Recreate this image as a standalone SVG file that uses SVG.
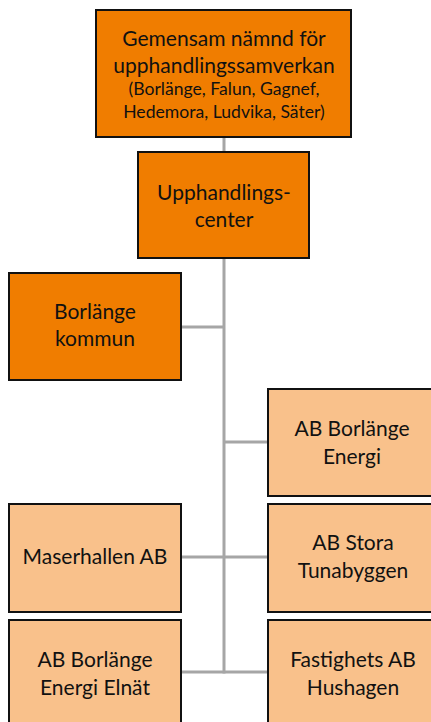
<svg xmlns="http://www.w3.org/2000/svg" width="431" height="722" viewBox="0 0 431 722">
<style>
.dk{fill:#f07d00;stroke:#111;stroke-width:2}
.lt{fill:#f9c18b;stroke:#111;stroke-width:2}
.t{font-family:Lato,"Open Sans","Liberation Sans",sans-serif;font-size:21px;fill:#111;text-anchor:middle}
.s{font-size:17.6px}
.c{stroke:#a6a6a6;stroke-width:3;fill:none}
</style>
<rect width="431" height="722" fill="#fff"/>
<g id="connectors">
<line class="c" x1="224" y1="137" x2="224" y2="673.5"/>
<line class="c" x1="181" y1="327" x2="224" y2="327"/>
<line class="c" x1="224" y1="442" x2="268" y2="442"/>
<line class="c" x1="181" y1="557" x2="268" y2="557"/>
<line class="c" x1="181" y1="672" x2="268" y2="672"/>
</g>
<g id="n1"><rect class="dk" x="96" y="10" width="255" height="127"/>
<text class="t" x="224" y="46">Gemensam nämnd för</text>
<text class="t" x="224" y="73">upphandlingssamverkan</text>
<text class="t s" x="224" y="95">(Borlänge, Falun, Gagnef,</text>
<text class="t s" x="224" y="118">Hedemora, Ludvika, Säter)</text></g>
<g id="n2"><rect class="dk" x="138" y="152" width="171" height="106"/>
<text class="t" x="224" y="200">Upphandlings-</text>
<text class="t" x="224" y="227">center</text></g>
<g id="n3"><rect class="dk" x="9" y="273" width="172" height="107"/>
<text class="t" x="95" y="319">Borlänge</text>
<text class="t" x="95" y="346">kommun</text></g>
<g id="n4"><rect class="lt" x="268" y="389" width="168" height="107"/>
<text class="t" x="352" y="436">AB Borlänge</text>
<text class="t" x="352" y="464">Energi</text></g>
<g id="n5"><rect class="lt" x="9" y="504" width="172" height="108"/>
<text class="t" x="95" y="564">Maserhallen AB</text></g>
<g id="n6"><rect class="lt" x="268" y="504" width="168" height="108"/>
<text class="t" x="353" y="550">AB Stora</text>
<text class="t" x="353" y="578">Tunabyggen</text></g>
<g id="n7"><rect class="lt" x="9" y="620" width="172" height="108"/>
<text class="t" x="95" y="667">AB Borlänge</text>
<text class="t" x="95" y="695">Energi Elnät</text></g>
<g id="n8"><rect class="lt" x="268" y="620" width="168" height="108"/>
<text class="t" x="353" y="667">Fastighets AB</text>
<text class="t" x="353" y="695">Hushagen</text></g>
</svg>
